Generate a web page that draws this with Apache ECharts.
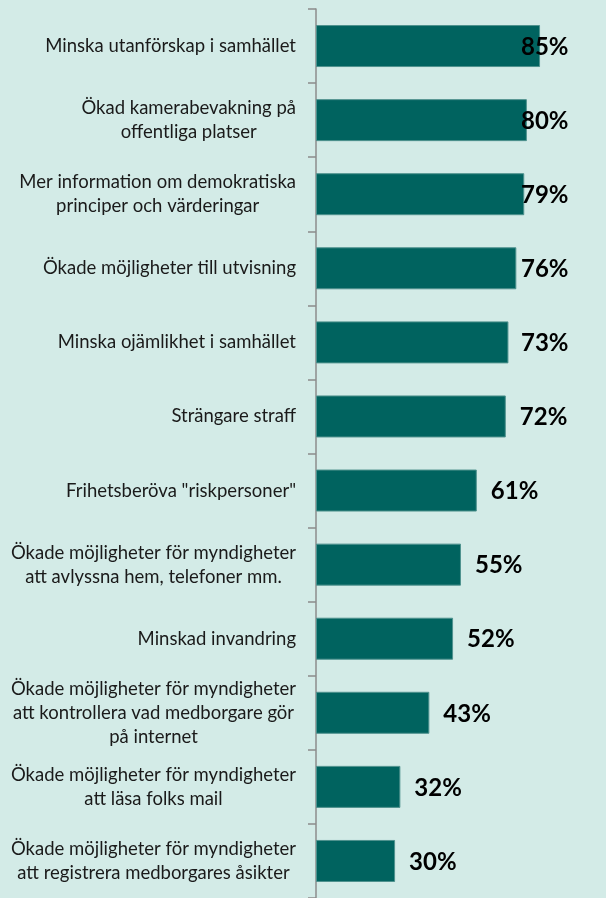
<!DOCTYPE html>
<html>
<head>
<meta charset="utf-8">
<script src="https://cdn.jsdelivr.net/npm/echarts@6/dist/echarts.min.js"></script>
<style>
html, body { margin: 0; padding: 0; background: #d3ebe7; }
#chart { width: 606px; height: 898px; }
</style>
</head>
<body>
<div id="chart"></div>
<script>
var categories = [
	'Minska utanförskap i samhället',
	'Ökad kamerabevakning på\noffentliga platser',
	'Mer information om demokratiska\nprinciper och värderingar',
	'Ökade möjligheter till utvisning',
	'Minska ojämlikhet i samhället',
	'Strängare straff',
	'Frihetsberöva "riskpersoner"',
	'Ökade möjligheter för myndigheter\natt avlyssna hem, telefoner mm.',
	'Minskad invandring',
	'Ökade möjligheter för myndigheter\natt kontrollera vad medborgare gör\npå internet',
	'Ökade möjligheter för myndigheter\natt läsa folks mail',
	'Ökade möjligheter för myndigheter\natt registrera medborgares åsikter'
];
var values = [85, 80, 79, 76, 73, 72, 61, 55, 52, 43, 32, 30];

var mainChart = echarts.init(document.getElementById('chart'));

var chartOption = {
	backgroundColor: '#d3ebe7',
	animation: false,
	grid: {
		left: 316,
		top: 9,
		width: 263.6,
		height: 890
	},
	xAxis: {
		type: 'value',
		min: 0,
		max: 100,
		show: false
	},
	yAxis: {
		type: 'category',
		inverse: true,
		data: categories,
		axisLine: {
			show: true,
			lineStyle: { color: '#8c8c8c', width: 1.5 }
		},
		axisTick: {
			show: true,
			length: 8,
			lineStyle: { color: '#8c8c8c', width: 1.5 }
		},
		axisLabel: {
			interval: 0,
			margin: 20,
			align: 'right',
			formatter: function (val) {
				// each line centred inside the label block, like the original
				return val.split('\n').map(function (l) {
					return '{c|' + l + '}';
				}).join('\n');
			},
			rich: {
				c: {
					align: 'center',
					fontFamily: 'Lato',
					fontSize: 18.5,
					lineHeight: 24,
					color: '#1a1a1a'
				}
			}
		}
	},
	series: [{
		type: 'bar',
		data: values,
		barWidth: 42,
		itemStyle: {
			color: '#00635f',
			borderColor: '#4f928e',
			borderWidth: 1
		},
		label: {
			show: true,
			position: 'right',
			formatter: '{c}%',
			fontFamily: 'Lato',
			fontWeight: 'bold',
			fontSize: 24,
			color: '#000000'
		},
		labelLayout: function (params) {
			var r = params.rect;
			// long bars: label slides back over the bar end
			return {
				x: Math.min(r.x + r.width + 14, 521),
				y: r.y + r.height / 2 + 1,
				align: 'left',
				verticalAlign: 'middle'
			};
		}
	}]
};

mainChart.setOption(chartOption);
</script>
</body>
</html>
